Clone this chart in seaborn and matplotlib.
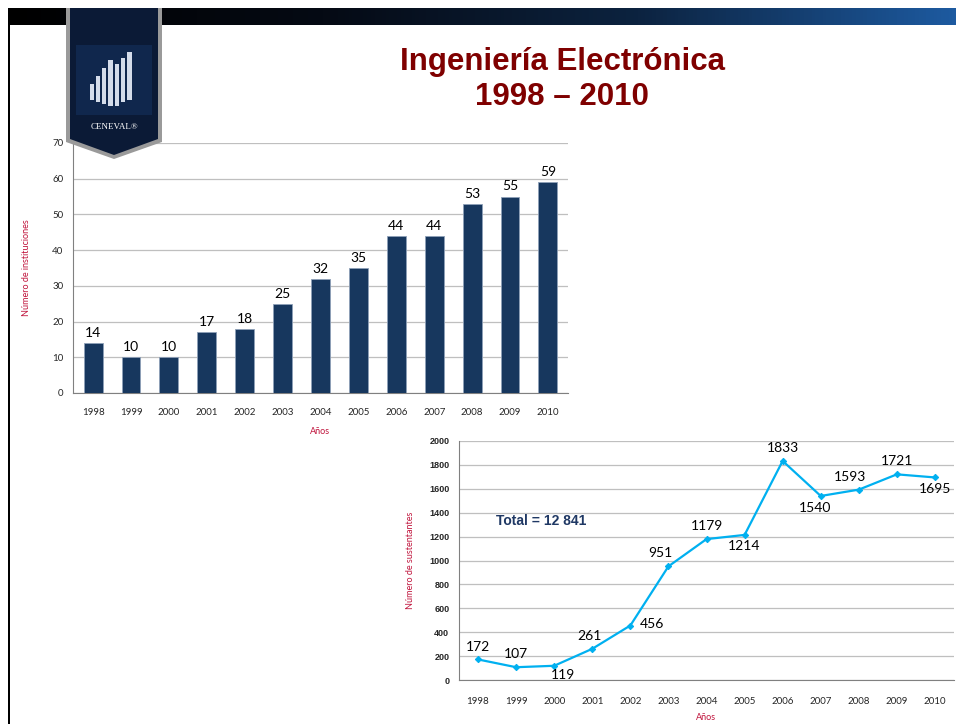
import matplotlib
matplotlib.use("Agg")
import matplotlib.pyplot as plt
import matplotlib.colors as mcolors
from matplotlib.patches import Polygon, Rectangle
import numpy as np
import pandas as pd
import seaborn as sns

years = ["1998", "1999", "2000", "2001", "2002", "2003", "2004",
         "2005", "2006", "2007", "2008", "2009", "2010"]
instituciones = [14, 10, 10, 17, 18, 25, 32, 35, 44, 44, 53, 55, 59]
sustentantes = [172, 107, 119, 261, 456, 951, 1179, 1214, 1833, 1540, 1593, 1721, 1695]
# label placement for the line chart: (dx, dy) in points, horizontal alignment
label_offsets = [(0, 5), (0, 5), (6, -2), (-2, 5), (7, 1), (-6, 5), (0, 5),
                 (0, -4), (0, 5), (-4, -4), (-6, 5), (0, 5), (0, -4)]
label_ha = ["center", "center", "center", "center", "left", "center", "center",
            "center", "center", "center", "center", "center", "center"]
title_lines = ["Ingeniería Electrónica", "1998 – 2010"]
total_text = "Total = 12 841"

sns.set_theme(style="white")
plt.rcParams["font.family"] = ["Liberation Sans", "DejaVu Sans"]

W, H = 956, 724
fig = plt.figure(figsize=(W / 100, H / 100), dpi=100)
fig.patch.set_facecolor("white")


def fx(x):
    return x / W


def fy(y):
    return 1 - y / H


label_red = "#C0143C"
grid_col = "#BFBFBF"
navy = "#17375E"
cyan = "#00B0F0"
lato = ["Lato", "DejaVu Sans"]

# ---------- top gradient band ----------
band = fig.add_axes([fx(8), fy(25), fx(956 - 8), (25 - 8) / H])
grad = np.linspace(0, 1, 256).reshape(1, -1)
cmap = mcolors.LinearSegmentedColormap.from_list(
    "band", ["#000000", "#050a14", "#0c2340", "#1d5aa0"])
band.imshow(grad, aspect="auto", cmap=cmap, extent=[0, 1, 0, 1])
band.set_axis_off()

# left border line
fig.add_artist(Rectangle((fx(8), 0), 2.2 / W, fy(20), transform=fig.transFigure,
                         facecolor="black", edgecolor="none", zorder=5))

# ---------- bar chart ----------
df_bar = pd.DataFrame({"Año": years, "Instituciones": instituciones})
ax1 = fig.add_axes([fx(73), fy(393), (568 - 73) / W, (393 - 143) / H])
sns.barplot(data=df_bar, x="Año", y="Instituciones", color=navy, saturation=1,
            width=0.5, ax=ax1, zorder=3)
for p in ax1.patches:
    p.set_edgecolor("#8ea0b8")
    p.set_linewidth(0.6)
ax1.set_ylim(0, 70)
ax1.set_yticks(range(0, 71, 10))
ax1.set_xlim(-0.53, 12.53)
ax1.yaxis.grid(True, color=grid_col, linewidth=0.9, zorder=0)
ax1.set_axisbelow(True)
for s in ["top", "right"]:
    ax1.spines[s].set_visible(False)
for s in ["left", "bottom"]:
    ax1.spines[s].set_color("#808080")
    ax1.spines[s].set_linewidth(0.8)
ax1.tick_params(axis="y", length=3, width=0.6, color="#808080", labelsize=7, pad=4)
ax1.tick_params(axis="x", length=0, labelsize=7, pad=11)
for lab in ax1.get_xticklabels() + ax1.get_yticklabels():
    lab.set_fontfamily(lato)
ax1.set_xlabel("Años", color=label_red, fontsize=6.5, labelpad=7, fontfamily=lato)
ax1.set_ylabel("Número de instituciones", color=label_red, fontsize=6.5, labelpad=15,
               fontfamily=lato)
for i, v in enumerate(instituciones):
    ax1.annotate(str(v), (i, v), xytext=(0, 3), textcoords="offset points",
                 ha="center", va="bottom", fontsize=10, color="black", fontfamily=lato)

# ---------- line chart ----------
df_line = pd.DataFrame({"Año": years, "Sustentantes": sustentantes})
ax2 = fig.add_axes([fx(459), fy(680), (954 - 459) / W, (680 - 441) / H])
sns.lineplot(data=df_line, x="Año", y="Sustentantes", color=cyan, linewidth=1.6,
             marker="D", markersize=3.2, markeredgecolor=cyan, sort=False, ax=ax2)
ax2.set_ylim(0, 2000)
ax2.set_yticks(range(0, 2001, 200))
ax2.set_xlim(-0.5, 12.5)
ax2.yaxis.grid(True, color=grid_col, linewidth=0.9)
ax2.set_axisbelow(True)
for s in ["top", "right"]:
    ax2.spines[s].set_visible(False)
for s in ["left", "bottom"]:
    ax2.spines[s].set_color("#808080")
    ax2.spines[s].set_linewidth(0.8)
ax2.tick_params(axis="y", length=3, width=0.6, color="#808080", labelsize=6.5, pad=4)
ax2.tick_params(axis="x", length=0, labelsize=7, pad=12)
for lab in ax2.get_yticklabels():
    lab.set_fontweight("bold")
for lab in ax2.get_xticklabels():
    lab.set_fontfamily(lato)
ax2.set_xlabel("Años", color=label_red, fontsize=6.5, labelpad=5, fontfamily=lato)
ax2.set_ylabel("Número de sustentantes", color=label_red, fontsize=6.5, labelpad=10,
               fontfamily=lato)
for i, (v, off, ha) in enumerate(zip(sustentantes, label_offsets, label_ha)):
    va = "bottom" if off[1] > 1 else ("top" if off[1] < 0 else "center")
    ax2.annotate(str(v), (i, v), xytext=off, textcoords="offset points",
                 ha=ha, va=va, fontsize=10, color="black", fontfamily=lato)
ax2.text(0.47, 1330, total_text, ha="left", va="center", fontsize=10,
         fontweight="bold", color="#1F3864")

# ---------- title ----------
fig.text(fx(562), fy(62), title_lines[0], ha="center", va="center", fontsize=22.5,
         fontweight="bold", color="#7F0000")
fig.text(fx(562), fy(97), title_lines[1], ha="center", va="center", fontsize=22.5,
         fontweight="bold", color="#7F0000")

# ---------- logo banner ----------
logo = fig.add_axes([0, 0, 1, 1], zorder=10)
logo.set_xlim(0, W)
logo.set_ylim(H, 0)
logo.set_axis_off()
logo.patch.set_alpha(0)
shadow = Polygon([(66, 8), (162, 8), (162, 142), (114, 159), (66, 142)],
                 closed=True, facecolor="#9a9a9a", edgecolor="none")
logo.add_patch(shadow)
banner = Polygon([(70, 8), (158, 8), (158, 139), (114, 155), (70, 139)],
                 closed=True, facecolor="#0b1a36", edgecolor="none")
logo.add_patch(banner)
glow = Polygon([(76, 45), (152, 45), (152, 115), (76, 115)], closed=True,
               facecolor="#17386b", edgecolor="none", alpha=0.45)
logo.add_patch(glow)
# stylised icon bars
for (x0, y0, w, h) in [(90, 84, 4, 16), (96, 76, 4, 26), (102, 68, 4, 36),
                       (108, 60, 5, 46), (115, 64, 4, 42), (121, 58, 4, 44),
                       (127, 52, 5, 48)]:
    logo.add_patch(Rectangle((x0, y0), w, h, facecolor="#d4dcea", edgecolor="none"))
logo.text(114, 127, "CENEVAL®", ha="center", va="center", fontsize=6.5,
          color="white", fontfamily=["Liberation Serif", "DejaVu Serif"])

fig.savefig("out.png", dpi=100, facecolor="white")
